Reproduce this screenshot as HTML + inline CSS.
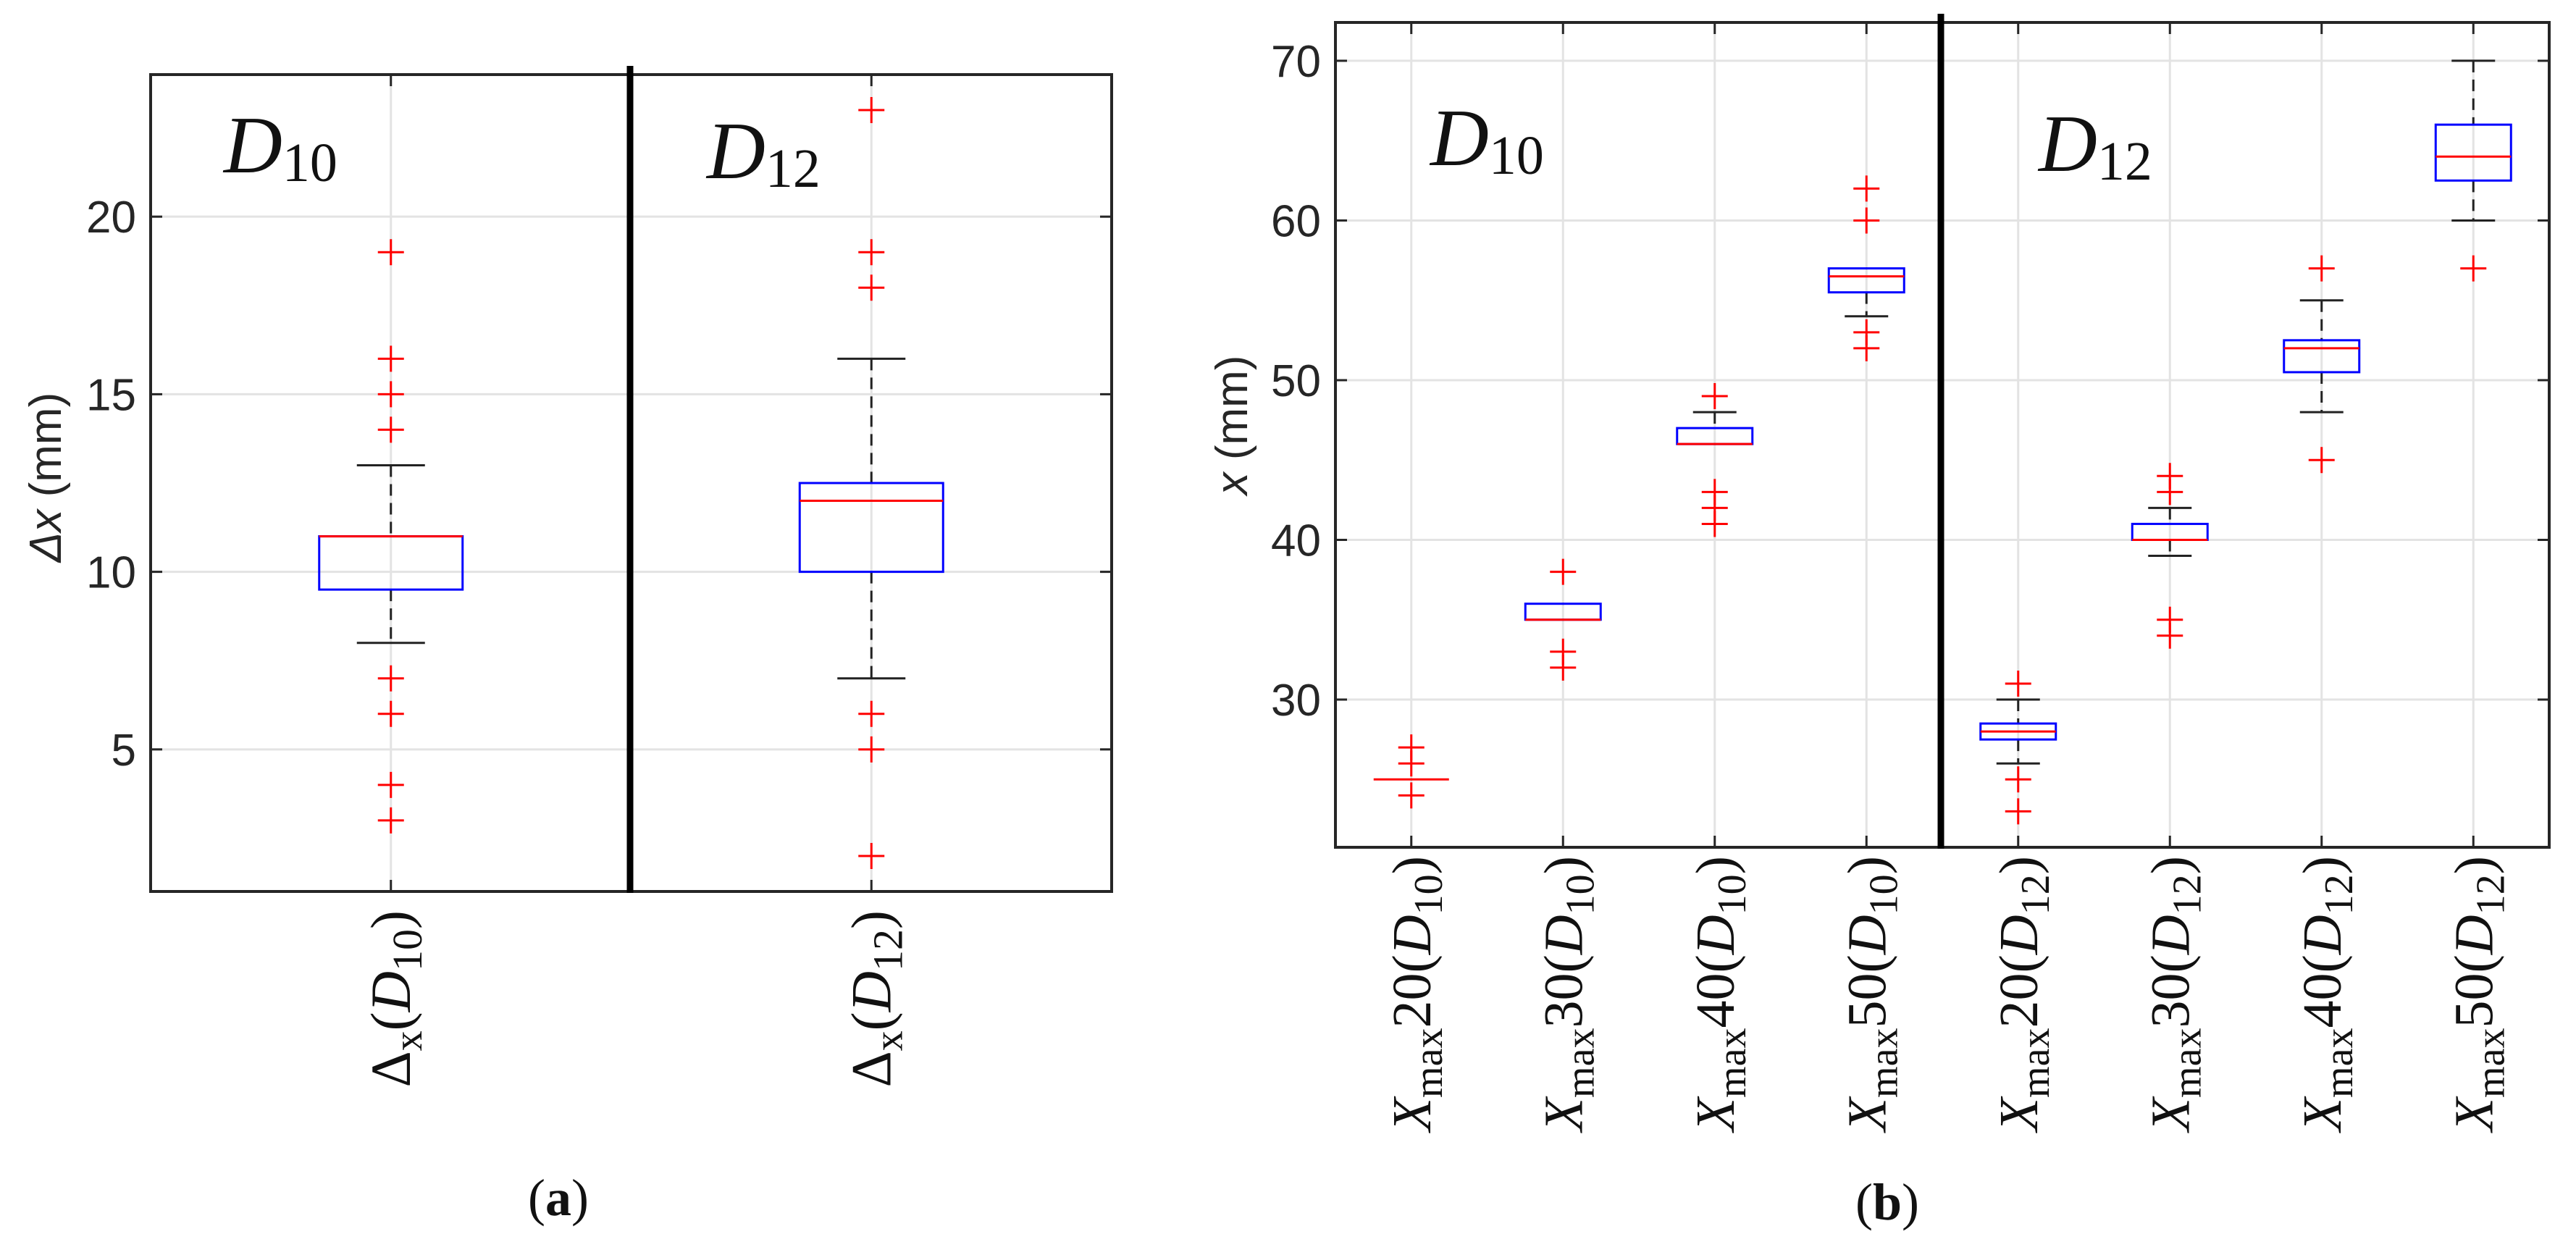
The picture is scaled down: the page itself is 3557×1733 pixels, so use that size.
<!DOCTYPE html>
<html><head><meta charset="utf-8"><style>
html,body{margin:0;padding:0;background:#fff;}
svg{display:block;}
.tick{font-family:"Liberation Sans",sans-serif;font-size:62px;fill:#262626;}
.ser{font-family:"Liberation Serif",serif;fill:#111;}
</style></head><body>
<svg id="fig" width="3557" height="1733" viewBox="0 0 3557 1733" xmlns="http://www.w3.org/2000/svg">
<g id="pa"></g>
<g id="pb"></g>
<text class="ser" font-family="Liberation Serif, serif" x="771" y="1678" font-size="72" text-anchor="middle">(<tspan font-weight="bold">a</tspan>)</text>
<text class="ser" font-family="Liberation Serif, serif" x="2606" y="1684" font-size="72" text-anchor="middle">(<tspan font-weight="bold">b</tspan>)</text>
</svg>
<script>
// Panel A data
const aCats = [["D","10"],["D","12"]];
const aQ1 = [9.5, 10];
const aMed = [11, 12];
const aQ3 = [11, 12.5];
const aWLo = [8, 7];
const aWHi = [13, 16];
const aOut = [[19,16,15,14,7,6,4,3],[23,19,18,6,5,2]];
const aTicks = [5,10,15,20];
// Panel B data
const bCats = [["20","10"],["30","10"],["40","10"],["50","10"],["20","12"],["30","12"],["40","12"],["50","12"]];
const bQ1 = [25,35,46,55.5,27.5,40,50.5,62.5];
const bMed = [25,35,46,56.5,28,40,52,64];
const bQ3 = [25,36,47,57,28.5,41,52.5,66];
const bWLo = [25,35,46,54,26,39,48,60];
const bWHi = [25,36,48,57,30,42,55,70];
const bOut = [[27,26,24],[38,33,32],[49,43,42,41],[62,60,53,52],[31,25,23],[44,43,35,34],[57,45],[57]];
const bTicks = [30,40,50,60,70];

const NS="http://www.w3.org/2000/svg";
function mk(parent,tag,attrs){const e=document.createElementNS(NS,tag);for(const k in attrs)e.setAttribute(k,attrs[k]);parent.appendChild(e);return e;}

function panel(g,cfg){
  const {L,R,T,B,ymin,ymax,n,cats,q1,med,q3,wlo,whi,out,ticks,boxHW,capHW,divX,labGap,rotFont,labFn,ylab,ylabX}=cfg;
  const sx=i=>L+(i+0.5)*(R-L)/n;
  const sy=v=>B-(v-ymin)/(ymax-ymin)*(B-T);
  ticks.forEach(t=>{const l=mk(g,'line',{x1:L,x2:R,y1:sy(t),y2:sy(t),stroke:'#e3e3e3','stroke-width':3});
    
    });
  for(let i=0;i<n;i++){const l=mk(g,'line',{x1:sx(i),x2:sx(i),y1:T,y2:B,stroke:'#e3e3e3','stroke-width':3});
    
    }
  ticks.forEach(t=>{
    mk(g,'line',{x1:L,x2:L+16,y1:sy(t),y2:sy(t),stroke:'#262626','stroke-width':3});
    mk(g,'line',{x1:R-16,x2:R,y1:sy(t),y2:sy(t),stroke:'#262626','stroke-width':3});
    const tx=mk(g,'text',{x:L-20,y:sy(t)+22,'text-anchor':'end',class:'tick','font-family':'Liberation Sans, sans-serif'});
    
    
    tx.textContent=t;
  });
  for(let i=0;i<n;i++){
    mk(g,'line',{x1:sx(i),x2:sx(i),y1:B-16,y2:B,stroke:'#262626','stroke-width':3});
    mk(g,'line',{x1:sx(i),x2:sx(i),y1:T,y2:T+16,stroke:'#262626','stroke-width':3});
  }
  for(let i=0;i<n;i++){
    const x=sx(i);
    const bg=mk(g,'g',{});
    
    
    mk(bg,'line',{x1:x,x2:x,y1:sy(whi[i]),y2:sy(q3[i]),stroke:'#222','stroke-width':3,'stroke-dasharray':'16 10'});
    mk(bg,'line',{x1:x,x2:x,y1:sy(q1[i]),y2:sy(wlo[i]),stroke:'#222','stroke-width':3,'stroke-dasharray':'16 10'});
    if(whi[i]!==q3[i]) mk(bg,'line',{x1:x-capHW,x2:x+capHW,y1:sy(whi[i]),y2:sy(whi[i]),stroke:'#222','stroke-width':3});
    if(wlo[i]!==q1[i]) mk(bg,'line',{x1:x-capHW,x2:x+capHW,y1:sy(wlo[i]),y2:sy(wlo[i]),stroke:'#222','stroke-width':3});
    mk(bg,'rect',{x:x-boxHW,y:sy(q3[i]),width:2*boxHW,height:Math.max(0,sy(q1[i])-sy(q3[i])),fill:'none',stroke:'#0000ff','stroke-width':3});
    mk(bg,'line',{x1:x-boxHW,x2:x+boxHW,y1:sy(med[i]),y2:sy(med[i]),stroke:'#ff0000','stroke-width':3});
    out[i].forEach(v=>{
      const p=mk(bg,'path',{d:`M${x-18},${sy(v)}H${x+18}M${x},${sy(v)-18}V${sy(v)+18}`,stroke:'#ff0000','stroke-width':3,fill:'none'});
      
      
    });
    const t=mk(g,'text',{class:'ser','font-family':'Liberation Serif, serif','font-size':rotFont,'text-anchor':'end',transform:`translate(${x+26},${B+labGap}) rotate(-90)`});
    
    
    t.innerHTML=labFn(cats[i]);
  }
  mk(g,'rect',{x:L,y:T,width:R-L,height:B-T,fill:'none',stroke:'#262626','stroke-width':4});
  const d=mk(g,'line',{x1:divX,x2:divX,y1:T-12,y2:B+2,stroke:'#000','stroke-width':9});
  
  
  const yl=mk(g,'text',{transform:`translate(${ylabX.x},${ylabX.y}) rotate(-90)`,'text-anchor':'middle',class:'tick','font-family':'Liberation Sans, sans-serif','font-size':66});
  
  
  yl.innerHTML=ylab;
}

panel(document.getElementById('pa'),{L:208,R:1535,T:103,B:1231,ymin:1,ymax:24,n:2,cats:aCats,q1:aQ1,med:aMed,q3:aQ3,wlo:aWLo,whi:aWHi,out:aOut,ticks:aTicks,boxHW:99,capHW:47,divX:870,labGap:26,rotFont:78,
  labFn:c=>`Δ<tspan font-size="56" dy="16">x</tspan><tspan dy="-16">(</tspan><tspan font-style="italic">${c[0]}</tspan><tspan font-size="58" dy="16">${c[1]}</tspan><tspan dy="-16">)</tspan>`,
  ylab:`<tspan font-style="italic">Δx</tspan> (mm)`,ylabX:{x:84,y:659}});
panel(document.getElementById('pb'),{L:1844,R:3520,T:31,B:1170,ymin:20.75,ymax:72.4,n:8,cats:bCats,q1:bQ1,med:bMed,q3:bQ3,wlo:bWLo,whi:bWHi,out:bOut,ticks:bTicks,boxHW:52,capHW:30,divX:2680,labGap:12,rotFont:76,
  labFn:c=>`<tspan font-style="italic">X</tspan><tspan font-size="56" dy="16">max</tspan><tspan dy="-16">${c[0]}(</tspan><tspan font-style="italic">D</tspan><tspan font-size="56" dy="16">${c[1]}</tspan><tspan dy="-16">)</tspan>`,
  ylab:`<tspan font-style="italic">x</tspan> (mm)`,ylabX:{x:1722,y:587}});

const ann=[[309,238,'10','ann-d10-a'],[976,246,'12','ann-d12-a'],[1975,228,'10','ann-d10-b'],[2815,236,'12','ann-d12-b']];
const fig=document.getElementById('fig');
ann.forEach(a=>{
  const t=mk(fig,'text',{x:a[0],y:a[1],class:'ser','font-family':'Liberation Serif, serif','font-size':112});
  
  
  t.innerHTML=`<tspan font-style="italic">D</tspan><tspan font-size="76" dy="12">${a[2]}</tspan>`;
});
</script>
</body></html>
